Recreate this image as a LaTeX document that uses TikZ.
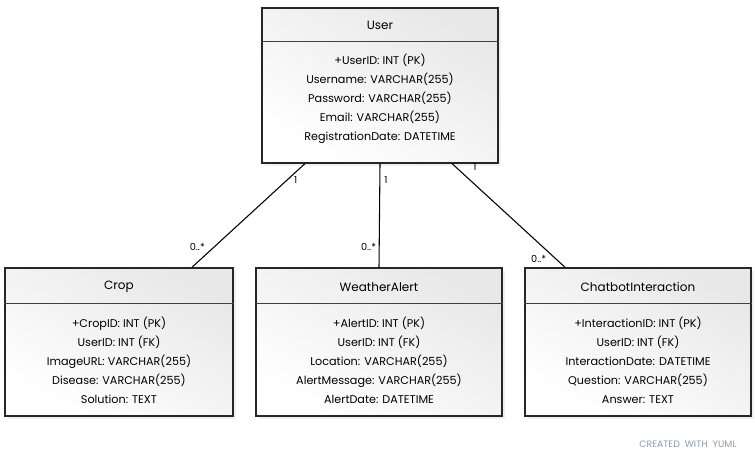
\documentclass[tikz,border=0pt]{standalone}
\usepackage{fontspec}
\setmainfont{Poppins}
\usepackage{xcolor}
\usetikzlibrary{positioning,calc,shadows}

\definecolor{yumlgray}{HTML}{8C9AAE}

\begin{document}
\begin{tikzpicture}[x=0.75pt,y=-0.75pt]%[scale=2.5]
\useasboundingbox (0,0) rectangle (755,460);
\tikzstyle{classbox}=[draw=black!85, line width=1.1pt, top color=white, bottom color=black!9,
  shading angle=150, drop shadow={opacity=0.12, shadow xshift=2pt, shadow yshift=-2pt}, inner sep=0pt]
\tikzstyle{ctitle}=[font=\fontsize{9}{10}\selectfont]
\tikzstyle{attrs}=[align=center, font=\fontsize{8.4}{14.2}\selectfont, inner sep=0pt]
\tikzstyle{mult}=[font=\fontsize{7.3}{8}\selectfont, inner sep=1pt]
\tikzstyle{divider}=[draw=black!75, line width=1pt]

\draw node[classbox, minimum width=177pt, minimum height=116pt] (user) at (380,85.5) {};
\draw node[classbox, minimum width=171pt, minimum height=111pt] (crop) at (119,342) {};
\draw node[classbox, minimum width=184.5pt, minimum height=111pt] (alert) at (379,342) {};
\draw node[classbox, minimum width=169.5pt, minimum height=111pt] (chat) at (638,342) {};

\draw[divider] ($(user.north west)+(0,34)$) -- ($(user.north east)+(0,34)$);
\foreach \b in {crop,alert,chat}
  \draw[divider] ($(\b.north west)+(0,36)$) -- ($(\b.north east)+(0,36)$);

\node[ctitle] (usert) at ($(user.north)+(0,18)$) {User};
\node[ctitle] (cropt) at ($(crop.north)+(0,20)$) {Crop};
\node[ctitle] (alertt) at ($(alert.north)+(0,20)$) {WeatherAlert};
\node[ctitle] (chatt) at ($(chat.north)+(0,20)$) {ChatbotInteraction};

\node[attrs] (usera) at ($(user.north)+(0,91)$) {+UserID: INT (PK)\\Username: VARCHAR(255)\\Password: VARCHAR(255)\\Email: VARCHAR(255)\\RegistrationDate: DATETIME};
\node[attrs] (cropa) at ($(crop.north)+(0,93)$) {+CropID: INT (PK)\\UserID: INT (FK)\\ImageURL: VARCHAR(255)\\Disease: VARCHAR(255)\\Solution: TEXT};
\node[attrs] (alerta) at ($(alert.north)+(0,93)$) {+AlertID: INT (PK)\\UserID: INT (FK)\\Location: VARCHAR(255)\\AlertMessage: VARCHAR(255)\\AlertDate: DATETIME};
\node[attrs] (chata) at ($(chat.north)+(0,93)$) {+InteractionID: INT (PK)\\UserID: INT (FK)\\InteractionDate: DATETIME\\Question: VARCHAR(255)\\Answer: TEXT};

\draw[line width=0.8pt] ($(user.south)+(-75,0)$) -- ($(crop.north)+(73,0)$)
  node[mult, pos=0.16, anchor=west, xshift=4pt] {1}
  node[mult, pos=0.8, anchor=east, xshift=-6pt] {0..*};
\draw[line width=0.8pt] (user.south) -- (alert.north)
  node[mult, pos=0.16, anchor=west, xshift=2pt] {1}
  node[mult, pos=0.8, anchor=east, xshift=-1pt] {0..*};
\draw[line width=0.8pt] ($(user.south)+(72,0)$) -- ($(chat.north)+(-73,0)$)
  node[mult, pos=0.03, anchor=west, xshift=12pt] {1}
  node[mult, pos=0.92, anchor=east, xshift=-6pt] {0..*};

\node[font=\fontsize{7}{8}\selectfont, text=yumlgray] (credit) at (688,444) {CREATED\ \ WITH\ \ YUML};
\end{tikzpicture}
\end{document}
